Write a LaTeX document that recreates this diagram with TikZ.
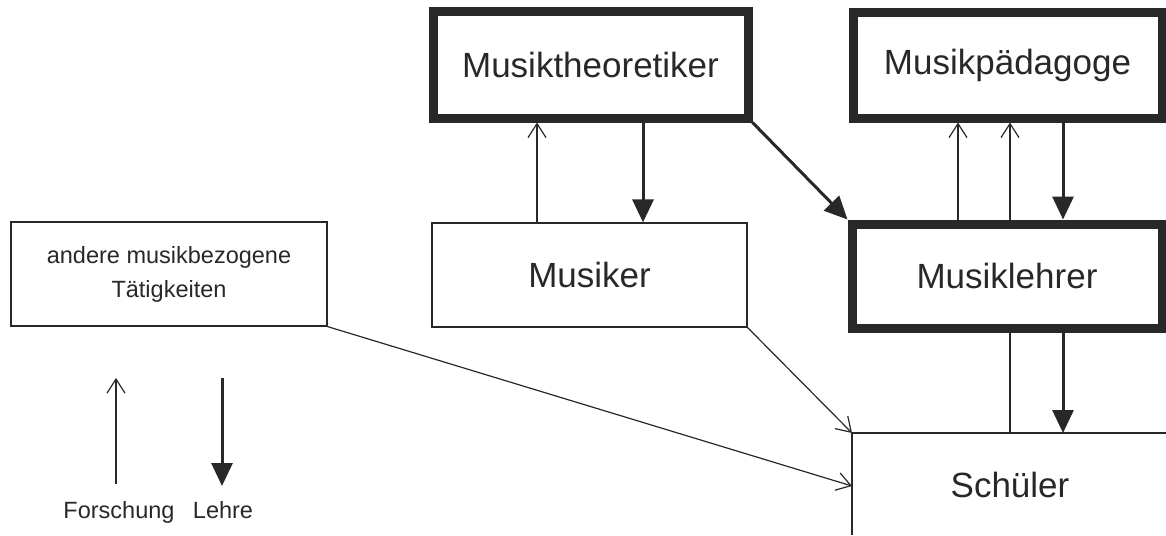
\documentclass[tikz,border=0pt]{standalone}
\usepackage{fontspec}
\setmainfont{Liberation Sans}
\usetikzlibrary{arrows.meta}
\definecolor{ink}{RGB}{40,40,40}
\tikzset{
  heavybox/.style={draw=ink, line width=9pt, inner sep=0pt, font=\fontsize{35}{40}\selectfont, text=ink},
  lightbox/.style={draw=ink, line width=1.2pt, inner sep=0pt, font=\fontsize{35}{40}\selectfont, text=ink},
  smalltext/.style={font=\fontsize{23.5}{34}\selectfont, text=ink, inner sep=0pt},
  forsch/.style={draw=ink, line width=1.2pt, -{Straight Barb[width=18pt,length=14pt,line width=1.2pt]}},
  lehre/.style={draw=ink, line width=3pt, -{Triangle[width=21pt,length=23pt]}},
  plainline/.style={draw=ink, line width=1.2pt}
}
\begin{document}
\begin{tikzpicture}[x=1pt,y=-1pt]
\useasboundingbox (0,0) rectangle (1166,535);
% boxes
\node[heavybox, minimum width=315pt, minimum height=106pt] (mt) at (590.5,65) {Musiktheoretiker};
\node[heavybox, minimum width=309pt, minimum height=105pt] (mp) at (1007.5,65.5) {Musikpädagoge};
\node[lightbox, minimum width=315pt, minimum height=104pt] (mu) at (589.5,275) {Musiker};
\node[heavybox, minimum width=310pt, minimum height=104pt] (ml) at (1007,276) {Musiklehrer};
\node[lightbox, minimum width=316pt, minimum height=104pt, align=center, font=\fontsize{23.5}{34}\selectfont] (an) at (169,274) {andere musikbezogene\\Tätigkeiten};
% Schueler (open box)
\coordinate (scTL) at (852,433);
\coordinate (scBL) at (852,535);
\coordinate (scTR) at (1166,433);
\coordinate (scL) at (852,486);
\draw[plainline] (scBL) -- (scTL) -- (scTR);
\node[font=\fontsize{35}{40}\selectfont, text=ink, inner sep=0pt] (sc) at (1010,485) {Schüler};
% helper x positions
\coordinate (xa) at (537,0);
\coordinate (xb) at (643,0);
\coordinate (xc) at (958,0);
\coordinate (xd) at (1010,0);
\coordinate (xe) at (1063,0);
% connectors
\draw[forsch] (mu.north -| xa) -- (mt.south -| xa);
\draw[lehre] (mt.south -| xb) -- (mu.north -| xb);
\draw[lehre] (mt.south east) -- (ml.north west);
\draw[forsch] (ml.north -| xc) -- (mp.south -| xc);
\draw[forsch] (ml.north -| xd) -- (mp.south -| xd);
\draw[lehre] (mp.south -| xe) -- (ml.north -| xe);
\draw[plainline] (scTL -| xd) -- (ml.south -| xd);
\draw[lehre] (ml.south -| xe) -- (scTL -| xe);
\draw[forsch] (mu.south east) -- (scTL);
\draw[forsch] (an.south east) -- (scL);
% legend
\coordinate (fb) at (116,484);
\coordinate (ft) at (116,378);
\coordinate (lt) at (222,378);
\coordinate (lb) at (222,486);
\draw[forsch] (fb) -- (ft);
\draw[lehre] (lt) -- (lb);
\node[smalltext, anchor=base] (fl) at (119,518) {Forschung};
\node[smalltext, anchor=base] (ll) at (223,518) {Lehre};
\end{tikzpicture}
\end{document}
